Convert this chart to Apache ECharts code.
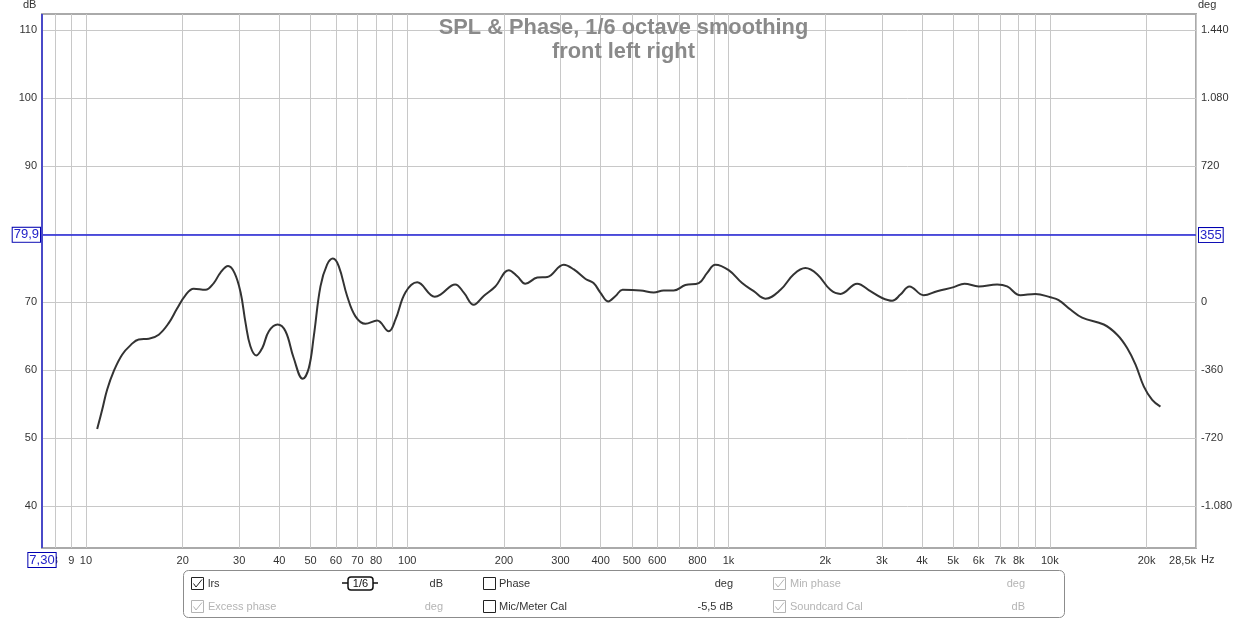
<!DOCTYPE html>
<html><head><meta charset="utf-8">
<style>html,body{margin:0;padding:0;background:#fff}#c{width:1248px;height:620px}</style>
<script src="https://cdn.jsdelivr.net/npm/echarts@6/dist/echarts.min.js"></script>
</head><body><div id="c"></div>
<script>
const freqs = [10.84,11.23,11.64,12.2,12.96,13.8,14.6,15.7,16.85,18.1,19.2,20.4,21.65,23.55,25,26.2,27.7,29,30.3,31.4,32.5,33.9,35.4,37.1,39.5,41.8,44.3,47.3,49.4,51.2,53.7,56.3,58.7,61.2,65,69,74.1,80.6,87.6,91.9,98.7,107.4,121.8,126.9,141,150,161,173,188,207,220,233,254,273,307,330,359,380,399,422,445,468,532,585,628,675,734,808,858,910,1001,1102,1198,1302,1451,1596,1735,1887,2075,2230,2513,2764,3006,3230,3428,3656,4050,4458,5022,5423,6008,6855,7363,8100,9020,10040,10650,11590,12600,14720,16200,17400,18480,19600,20820,22090];
const spl = [51.3,54.1,57.1,59.8,62.25,63.7,64.5,64.6,65.2,66.9,69,71,71.95,71.8,72.8,74.3,75.3,74.3,71.4,66.9,63.5,62.15,63.25,65.7,66.7,65.7,61.8,58.7,60.3,65,72.3,75.5,76.4,75.3,70.9,67.9,66.8,67.3,65.7,67.4,71.4,72.9,70.8,71.1,72.6,71.4,69.6,70.9,72.3,74.7,73.8,72.7,73.6,73.7,75.5,74.8,73.4,72.8,71.4,70.1,70.9,71.8,71.7,71.4,71.7,71.7,72.5,72.8,74.3,75.5,74.7,72.8,71.6,70.5,71.8,74.1,75,74.1,71.8,71.2,72.7,71.6,70.6,70.2,71.1,72.3,71,71.6,72.2,72.7,72.3,72.6,72.3,71,71.2,70.7,70.3,68.9,67.7,66.7,65.2,63.25,60.8,57.6,55.6,54.6];
const freqTicks = [8,9,10,20,30,40,50,60,70,80,90,100,200,300,400,500,600,700,800,900,1000,2000,3000,4000,5000,6000,7000,8000,9000,10000,20000,28500];
const freqLabels = [8,9,10,20,30,40,50,60,70,80,100,200,300,400,500,600,800,1000,2000,3000,4000,5000,6000,7000,8000,10000,20000,28500];
const dbTicks = [40,50,60,70,80,90,100,110];
const degTicks = [-1080,-720,-360,0,360,720,1080,1440];
const cursorFreq = 7.3, cursorDb = 79.9, cursorDeg = 355;
const titleText = 'SPL & Phase, 1/6 octave smoothing\nfront left right';

const FONT = '"Liberation Sans", Arial, sans-serif';
const BLUE = '#2020d8';
const fmtFreq = v => v === 28500 ? '28,5k' : v >= 1000 ? (v/1000)+'k' : String(v);
const fmtDeg = v => { const a = Math.abs(v); const s = a >= 1000 ? Math.floor(a/1000)+'.'+String(a%1000).padStart(3,'0') : String(a); return (v<0?'-':'')+s; };
const boxLabel = (text, position, distance) => ({
  show:true, formatter:text, position, color:'#2222c8', fontFamily:FONT, fontSize:13,
  backgroundColor:'#fff', borderColor:'#0000b0', borderWidth:1, padding:[1,1,0,1], distance
});

const t = (x,y,text,color,align) => ({type:'text',x,y,silent:true,style:{text,fill:color,font:'11px '+FONT,textAlign:align||'left',textVerticalAlign:'middle'}});
const check = (x,y,on,col) => {
  const out = [{type:'rect',silent:true,shape:{x:x+.5,y:y+.5,width:12,height:12},style:{fill:'#fff',stroke:col,lineWidth:1}}];
  if(on) out.push({type:'polyline',silent:true,shape:{points:[[x+2.5,y+6.5],[x+5,y+10],[x+11,y+2.5]]},style:{fill:null,stroke:col,lineWidth:1}});
  return out;
};
const DARK='#333', GREY='#b4b4b4';
const graphic = [
  {type:'rect',silent:true,shape:{x:183.5,y:570.5,width:881,height:47,r:5},style:{fill:'#fff',stroke:'#8c8c8c',lineWidth:1}},
  ...check(191,577,true,'#222'), t(208,584,'lrs',DARK),
  {type:'line',silent:true,shape:{x1:342,y1:583,x2:378,y2:583},style:{stroke:'#111',lineWidth:1.5}},
  {type:'rect',silent:true,shape:{x:348,y:577,width:25,height:13,r:3},style:{fill:'#fff',stroke:'#111',lineWidth:1.5}},
  {type:'text',silent:true,x:360.5,y:583.5,style:{text:'1/6',fill:'#111',font:'11px '+FONT,textAlign:'center',textVerticalAlign:'middle'}},
  t(443,584,'dB',DARK,'right'),
  ...check(483,577,false,'#222'), t(499,584,'Phase',DARK),
  t(733,584,'deg',DARK,'right'),
  ...check(773,577,true,GREY), t(790,584,'Min phase',GREY),
  t(1025,584,'deg',GREY,'right'),
  ...check(191,600,true,GREY), t(208,607,'Excess phase',GREY),
  t(443,607,'deg',GREY,'right'),
  ...check(483,600,false,'#222'), t(499,607,'Mic/Meter Cal',DARK),
  t(733,607,'-5,5 dB',DARK,'right'),
  ...check(773,600,true,GREY), t(790,607,'Soundcard Cal',GREY),
  t(1025,607,'dB',GREY,'right'),
  t(23,5,'dB',DARK), t(1198,5,'deg',DARK), t(1201,560,'Hz',DARK)
];

const chart = echarts.init(document.getElementById('c'));
chart.setOption({
  animation:false,
  backgroundColor:'#fff',
  textStyle:{fontFamily:FONT},
  title:{text:titleText,left:623.5,textAlign:'center',top:16,padding:0,
    textStyle:{fontFamily:FONT,fontSize:21.8,fontWeight:'bold',color:'#8a8a8a',lineHeight:24,align:'center'}},
  grid:{left:42,right:52,top:14,bottom:72,show:true,backgroundColor:'#fff',borderColor:'#aaaaaa',borderWidth:2},
  xAxis:{type:'log',logBase:10,min:cursorFreq,max:28500,
    axisLine:{show:false},
    axisTick:{show:false,customValues:freqTicks},
    minorTick:{show:false},
    axisLabel:{customValues:freqLabels,formatter:v=>fmtFreq(Math.round(v)),color:'#333',fontSize:11,margin:7,fontFamily:FONT,hideOverlap:false,showMinLabel:true,showMaxLabel:true,alignMaxLabel:'right'},
    splitLine:{show:true,lineStyle:{color:'#c8c8c8',width:1}},
    minorSplitLine:{show:false}},
  yAxis:[
    {type:'value',min:33.8,max:112.4,position:'left',
     axisLine:{show:false},axisTick:{show:false,customValues:dbTicks},
     axisLabel:{customValues:dbTicks,color:'#333',fontSize:11,margin:5,fontFamily:FONT},
     splitLine:{show:true,lineStyle:{color:'#c8c8c8',width:1}}},
    {type:'value',min:-1303.2,max:1526.4,position:'right',
     axisLine:{show:false},axisTick:{show:false,customValues:degTicks},
     axisLabel:{customValues:degTicks,formatter:fmtDeg,color:'#333',fontSize:11,margin:5,fontFamily:FONT},
     splitLine:{show:false}}
  ],
  series:[{
    name:'lrs',type:'line',xAxisIndex:0,yAxisIndex:0,
    data:freqs.map((f,i)=>[f,spl[i]]),
    showSymbol:false,symbol:'none',smooth:0.4,z:5,
    lineStyle:{color:'#333',width:2},
    markLine:{silent:true,symbol:'none',animation:false,z:6,
      data:[
        {yAxis:cursorDb,lineStyle:{color:BLUE,width:1.5,type:'solid'},label:boxLabel(cursorDb.toFixed(1).replace('.',','),'start',2)},
        {xAxis:cursorFreq,lineStyle:{color:'#4a4ac8',width:2,type:'solid'},label:boxLabel(cursorFreq.toFixed(2).replace('.',','),'start',5)}
      ]}
  },{
    name:'cursor deg',type:'line',xAxisIndex:0,yAxisIndex:1,data:[],
    markLine:{silent:true,symbol:'none',animation:false,z:6,
      data:[{yAxis:cursorDeg,lineStyle:{color:'rgba(0,0,0,0)',width:1},label:boxLabel(String(cursorDeg),'end',3)}]}
  }],
  graphic
});
</script></body></html>
